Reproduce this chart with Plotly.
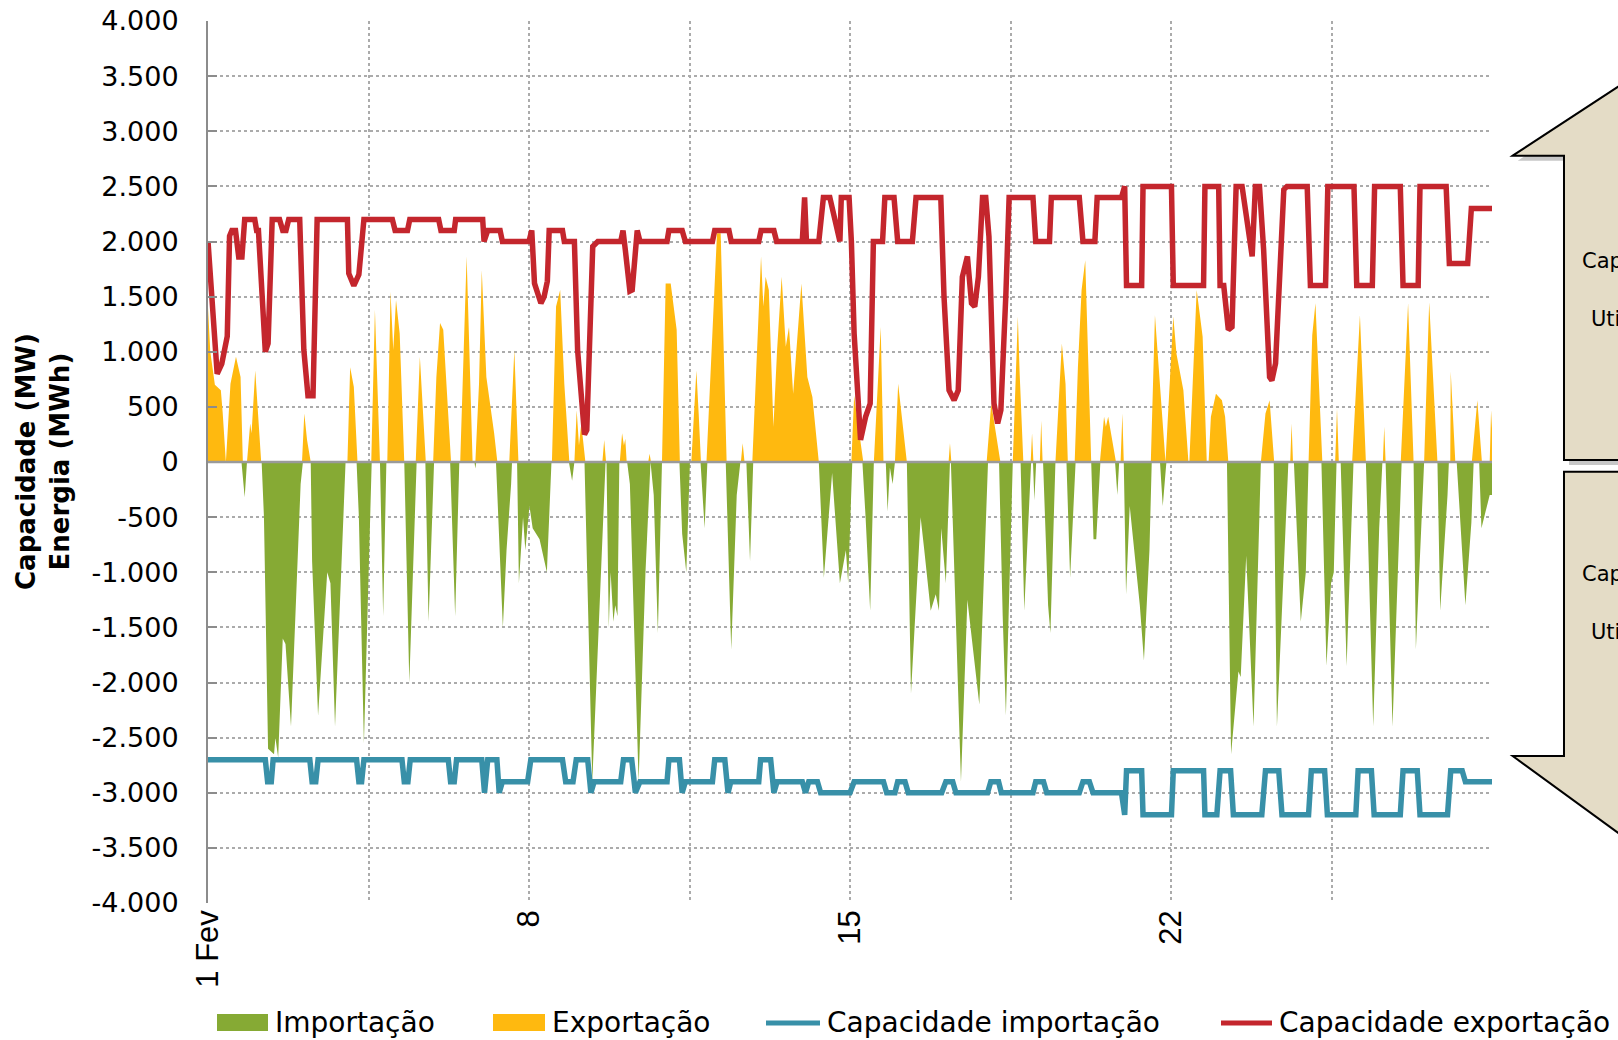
import plotly.graph_objects as go

# ---------------- data (days since 1 Feb, MW) ----------------
exp_day = [0.0, 0.05, 0.15, 0.28, 0.32, 0.38, 0.39, 0.49, 0.61, 0.71, 0.76, 0.85, 0.92, 0.95, 1.03, 1.16,
           2.05, 2.1, 2.16, 2.24, 3.04, 3.1, 3.18, 3.26, 3.56, 3.64, 3.75, 3.91, 3.98, 4.04, 4.1, 4.18, 4.28,
           4.53, 4.62, 4.75, 4.91, 4.98, 5.06, 5.13, 5.3, 5.5, 5.64, 5.77, 5.83, 5.91, 5.97, 6.07, 6.24, 6.31,
           6.57, 6.68, 6.77, 7.5, 7.59, 7.68, 7.77, 7.88, 7.99, 8.04, 8.09, 8.14, 8.23, 8.6, 8.64, 8.68,
           8.98, 9.03, 9.07, 9.1, 9.13, 9.6, 9.63, 9.66, 9.9, 9.98, 10.09, 10.22, 10.29, 10.54, 10.65, 10.7, 10.75,
           10.87, 11.1, 11.18, 11.31, 11.62, 11.66, 11.7, 11.87, 12.06, 12.11, 12.16, 12.23, 12.33, 12.41, 12.51,
           12.6, 12.67, 12.76, 12.94, 13.07, 13.18, 13.32, 14.03, 14.09, 14.29, 14.52, 14.67, 14.73, 14.98, 15.05,
           15.24, 16.15, 16.18, 16.21, 16.98, 17.08, 17.28, 17.55, 17.66, 17.7, 17.78, 17.94, 17.97, 18.0, 18.14,
           18.17, 18.2, 18.48, 18.62, 18.7, 18.75, 18.9, 18.97, 19.05, 19.13, 19.19, 19.26, 19.45, 19.54, 19.58,
           19.63, 19.8, 19.9, 19.94, 19.97, 20.56, 20.65, 20.88, 20.96, 21.05, 21.12, 21.27, 21.38, 21.4, 21.56,
           21.69, 21.78, 21.82, 21.87, 21.98, 22.11, 22.18, 22.25, 22.96, 23.06, 23.15, 23.25, 23.6, 23.63, 23.66,
           24.0, 24.08, 24.15, 24.3, 24.58, 24.62, 24.66, 24.95, 25.12, 25.25, 25.62, 25.65, 25.68, 26.01, 26.17,
           26.29, 26.52, 26.63, 26.81, 27.09, 27.1, 27.2, 27.56, 27.68, 27.78, 27.95, 27.98, 28.0]
exp_mw = [1400, 1000, 700, 650, 450, 0, 0, 710, 955, 770, 0, 0, 350, 260, 830, 0,
          0, 440, 200, 0, 0, 860, 680, 0, 0, 1380, 0, 0, 1545, 1015, 1470, 1165, 0,
          0, 955, 0, 0, 770, 1260, 1200, 0, 0, 1865, 0, 0, 710, 1740, 770, 260, 0,
          0, 1015, 0, 0, 1410, 1560, 710, 0, 0, 470, 150, 350, 0, 0, 200, 0,
          0, 260, 150, 210, 0, 0, 75, 0, 0, 1620, 1620, 1200, 0, 0, 830, 440, 0,
          0, 2075, 2075, 0, 0, 170, 0, 0, 1865, 1410, 1680, 1560, 320, 1015, 1680,
          1045, 1225, 620, 1620, 770, 590, 0, 0, 600, 0, 0, 1225, 0, 0, 710,
          0, 0, 170, 0, 0, 530, 0, 0, 1320, 800, 0, 0, 260, 0, 0,
          375, 0, 0, 1075, 710, 0, 0, 860, 1560, 1830, 1075, 0, 0, 410, 320,
          410, 0, 0, 440, 0, 0, 1330, 0, 680, 1320, 980, 650, 0, 0, 1560,
          1135, 0, 0, 410, 620, 560, 410, 0, 0, 440, 560, 0, 0, 350, 0,
          0, 1150, 1440, 0, 0, 485, 0, 0, 1330, 0, 0, 320, 0, 0, 1440,
          0, 0, 1450, 0, 0, 820, 0, 0, 560, 0, 0, 470, 300]

imp_day = [0.0, 0.73, 0.8, 0.85, 1.17, 1.22, 1.31, 1.44, 1.47, 1.53, 1.63, 1.69, 1.81, 2.02, 2.07,
           2.24, 2.27, 2.4, 2.6, 2.67, 2.77, 2.89, 3.0, 3.24, 3.29, 3.4, 3.55, 3.57, 3.75, 3.82, 3.89,
           4.28, 4.39, 4.55, 4.74, 4.81, 4.93, 5.28, 5.39, 5.48, 5.81, 5.83, 5.85, 6.28, 6.43, 6.51, 6.61, 6.63,
           6.74, 6.78, 6.87, 6.92, 7.01, 7.08, 7.23, 7.39, 7.49, 7.87, 7.94, 7.99, 8.21, 8.38, 8.54, 8.65, 8.67,
           8.69, 8.74, 8.78, 8.84, 8.88, 8.93, 8.97, 9.14, 9.2, 9.39, 9.54, 9.65, 9.72, 9.81, 9.9,
           10.28, 10.34, 10.43, 10.51, 10.74, 10.83, 10.89, 11.29, 11.41, 11.53, 11.61, 11.74, 11.82, 11.89,
           13.32, 13.43, 13.61, 13.78, 13.91, 13.96, 14.05, 14.27, 14.34, 14.44, 14.52, 14.78, 14.82, 14.87,
           14.93, 14.98, 15.24, 15.33, 15.54, 15.62, 15.76, 15.87, 15.94, 15.99, 16.09, 16.18, 16.2, 16.42,
           16.56, 16.82, 17.01, 17.25, 17.33, 17.4, 17.55, 17.72, 17.8, 17.95, 17.99, 18.02, 18.06, 18.21,
           18.32, 18.37, 18.48, 18.72, 18.8, 18.92, 19.26, 19.31, 19.37, 19.46, 19.78, 19.83, 19.87, 19.97,
           20.02, 20.1, 20.23, 20.32, 20.41, 20.53, 20.58, 20.76, 20.82, 20.9, 22.22, 22.31, 22.47, 22.52,
           22.64, 22.8, 22.96, 23.24, 23.31, 23.53, 23.56, 23.68, 23.83, 23.94, 24.0, 24.28, 24.39, 24.49,
           24.55, 24.61, 24.7, 24.83, 24.98, 25.25, 25.41, 25.54, 25.61, 25.68, 25.83, 26.03, 26.29, 26.34,
           26.52, 26.81, 26.87, 27.03, 27.06, 27.23, 27.42, 27.55, 27.6, 27.72, 27.77, 27.86, 27.95, 28.0]
imp_mw = [0, 0, -320, 0, 0, -500, -2600, -2650, -2500, -2680, -1600, -1650, -2400, -200, 0,
          0, -900, -2300, -1000, -1100, -2400, -1100, 0, 0, -500, -2550, -250, 0, 0, -1400, 0,
          0, -2000, 0, 0, -1450, 0, 0, -1400, 0, 0, -60, 0, 0, -1500, -800, -200, 0,
          0, -1100, -500, -800, -400, -600, -700, -1000, 0, 0, -170, 0, 0, -2900, -1300, -300, 0,
          0, -1500, -1000, -1450, -1300, -1400, 0, 0, -200, -2900, -1000, 0, -300, -1550, 0,
          0, -650, -1000, 0, 0, -600, 0, 0, -1700, -300, 0, 0, -900, 0,
          0, -1050, -100, -1100, -800, -1100, 0, 0, -500, -1350, 0, 0, -450, -50,
          -200, 0, 0, -2100, -500, -800, -1350, -1200, -1350, -600, -1100, 0, 0, -2900,
          -1250, -2200, 0, 0, -1400, -2300, 0, 0, -1350, 0, 0, -350, 0, 0,
          -1300, -1550, 0, 0, -1050, 0, 0, -700, -700, 0, 0, -300, 0, 0,
          -1200, -400, -900, -1300, -1800, -800, 0, 0, -400, 0, 0, -2650, -1900, -1950,
          -850, -2400, 0, 0, -2400, -300, 0, 0, -1450, -1000, 0, 0, -1850, -1100,
          -1000, 0, 0, -1850, 0, 0, -2400, -600, 0, 0, -2400, 0, 0, -1700,
          0, 0, -1350, -300, 0, 0, -1300, -550, 0, 0, -600, -450, -300, -300]

capimp_day = [0, 1.25, 1.3, 1.38, 1.42, 2.22, 2.27, 2.35, 2.4, 3.24, 3.29, 3.35, 3.4, 4.23, 4.28, 4.36, 4.41,
              5.24, 5.29, 5.37, 5.42, 5.97, 6.03, 6.1, 6.3, 6.35, 6.42, 6.97, 7.04, 7.73, 7.8, 7.96, 8.03,
              8.28, 8.35, 8.42, 9.0, 9.06, 9.24, 9.32, 9.42, 10.01, 10.05, 10.28, 10.34, 10.41, 11.0, 11.05,
              11.27, 11.34, 11.4, 12.01, 12.05, 12.27, 12.34, 12.41, 12.96, 13.03, 13.1, 13.29, 13.36, 14.0,
              14.09, 14.73, 14.8, 14.98, 15.04, 15.2, 15.27, 16.0, 16.09, 16.24, 16.31, 17.0, 17.07, 17.24,
              17.3, 17.99, 18.05, 18.22, 18.29, 19.0, 19.08, 19.22, 19.3, 19.92, 19.99, 20.03, 20.36, 20.39,
              21.01, 21.05, 21.71, 21.74, 22.0, 22.07, 22.3, 22.36, 22.98, 23.06, 23.35, 23.42, 24.0, 24.06,
              24.35, 24.41, 25.03, 25.08, 25.37, 25.43, 26.0, 26.06, 26.37, 26.43, 27.03, 27.1, 27.35, 27.42, 28.0]
capimp_mw = [-2700, -2700, -2900, -2900, -2700, -2700, -2900, -2900, -2700, -2700, -2900, -2900, -2700,
             -2700, -2900, -2900, -2700, -2700, -2900, -2900, -2700, -2700, -3000, -2700, -2700, -3000,
             -2900, -2900, -2700, -2700, -2900, -2900, -2700, -2700, -3000, -2900, -2900, -2700, -2700,
             -3000, -2900, -2900, -2700, -2700, -3000, -2900, -2900, -2700, -2700, -3000, -2900, -2900,
             -2700, -2700, -3000, -2900, -2900, -3000, -2900, -2900, -3000, -3000, -2900, -2900, -3000,
             -3000, -2900, -2900, -3000, -3000, -2900, -2900, -3000, -3000, -2900, -2900, -3000, -3000,
             -2900, -2900, -3000, -3000, -2900, -2900, -3000, -3000, -3200, -2800, -2800, -3200, -3200,
             -2800, -2800, -3200, -3200, -2800, -2800, -3200, -3200, -2800, -2800, -3200, -3200, -2800,
             -2800, -3200, -3200, -2800, -2800, -3200, -3200, -2800, -2800, -3200, -3200, -2800, -2800,
             -2900, -2900]

capexp_day = [0.0, 0.2, 0.3, 0.42, 0.47, 0.52, 0.6, 0.67, 0.74, 0.8, 1.02, 1.06, 1.1, 1.25, 1.31, 1.4,
              1.56, 1.63, 1.7, 1.76, 2.0, 2.09, 2.18, 2.29, 2.38, 3.04, 3.07, 3.18, 3.29, 3.4, 4.02, 4.08,
              4.35, 4.4, 5.03, 5.08, 5.37, 5.4, 5.99, 6.02, 6.1, 6.37, 6.42, 7.0, 7.06, 7.12, 7.26, 7.33,
              7.4, 7.44, 7.73, 7.77, 7.99, 8.06, 8.21, 8.26, 8.39, 8.5, 9.0, 9.05, 9.1, 9.2, 9.25, 9.32,
              9.36, 9.42, 10.01, 10.05, 10.34, 10.41, 11.0, 11.05, 11.36, 11.41, 12.01, 12.06, 12.34, 12.4,
              12.96, 13.01, 13.05, 13.32, 13.42, 13.56, 13.78, 13.81, 13.98, 14.03, 14.09, 14.23, 14.34,
              14.44, 14.51, 14.71, 14.76, 14.96, 15.04, 15.36, 15.44, 15.98, 16.05, 16.16, 16.27, 16.36,
              16.45, 16.56, 16.65, 16.72, 16.8, 16.89, 16.96, 17.03, 17.14, 17.22, 17.29, 17.4, 17.47,
              17.99, 18.05, 18.35, 18.39, 19.0, 19.08, 19.34, 19.39, 19.92, 19.99, 20.03, 20.36, 20.39,
              21.01, 21.05, 21.71, 21.74, 22.04, 22.07, 22.15, 22.25, 22.33, 22.42, 22.55, 22.77, 22.84,
              22.93, 23.02, 23.15, 23.2, 23.28, 23.39, 23.46, 23.53, 23.97, 24.04, 24.37, 24.42, 24.99,
              25.05, 25.39, 25.44, 26.0, 26.06, 26.39, 26.43, 27.0, 27.07, 27.47, 27.55, 28.0]
capexp_mw = [2000, 800, 890, 1140, 2050, 2100, 2100, 1860, 1860, 2200, 2200, 2100, 2100, 1000, 1075, 2200,
             2200, 2100, 2100, 2200, 2200, 1015, 600, 600, 2200, 2200, 1710, 1600, 1700, 2200, 2200, 2100,
             2100, 2200, 2200, 2100, 2100, 2200, 2200, 2000, 2100, 2100, 2000, 2000, 2100, 1620, 1440, 1500,
             1640, 2100, 2100, 2000, 2000, 1015, 250, 290, 1955, 2000, 2000, 2100, 1925, 1550, 1560, 1985,
             2100, 2000, 2000, 2100, 2100, 2000, 2000, 2100, 2100, 2000, 2000, 2100, 2100, 2000,
             2000, 2400, 2000, 2000, 2400, 2400, 2000, 2400, 2400, 2000, 1165, 200, 410,
             530, 2000, 2000, 2400, 2400, 2000, 2000, 2400, 2400, 1500, 650, 560, 650,
             1680, 1865, 1440, 1410, 1680, 2400, 2400, 2045, 530, 350, 470, 1530, 2400,
             2400, 2000, 2000, 2400, 2400, 2000, 2000, 2400, 2400, 2500, 1600, 1600, 2500,
             2500, 1600, 1600, 2500, 2500, 1600, 1600, 1200, 1225, 2500, 2500, 1865, 2500,
             2500, 1925, 770, 740, 895, 1925, 2470, 2500, 2500, 1600, 1600, 2500, 2500,
             1600, 1600, 2500, 2500, 1600, 1600, 2500, 2500, 1800, 1800, 2300, 2300]

x_tickvals = [0, 3.5, 7, 10.5, 14, 17.5, 21, 24.5, 28]
x_ticktext = ["1 Fev", "", "8", "", "15", "", "22", "", ""]
y_tickvals = [4000, 3500, 3000, 2500, 2000, 1500, 1000, 500, 0, -500, -1000, -1500, -2000,
              -2500, -3000, -3500, -4000]
y_ticktext = ["4.000", "3.500", "3.000", "2.500", "2.000", "1.500", "1.000", "500", "0", "-500",
              "-1.000", "-1.500", "-2.000", "-2.500", "-3.000", "-3.500", "-4.000"]

names = ["Importação", "Exportação", "Capacidade importação", "Capacidade exportação"]
y_title = "Capacidade (MW)<br>Energia (MWh)"
callout_up = ["Capacidade", "Utilização"]
callout_down = ["Capacidade", "Utilização"]

# ---------------- style ----------------
GREEN = "#86AA34"
YELLOW = "#FFB90F"
BLUE = "#3890A8"
RED = "#C4262D"
GRID = "#ABABAB"
AXIS = "#8C8C8C"
BEIGE = "#E4DCC6"

W, H = 1618, 1040
ML, MR, MT, MB = 208, 126, 21, 137
PW, PH = W - ML - MR, H - MT - MB


def px(x):
    return (x - ML) / PW


def py(y):
    return (H - MB - y) / PH


fig = go.Figure()
fig.add_trace(go.Scatter(x=imp_day, y=imp_mw, mode="lines", line=dict(width=0, color=GREEN),
                         fill="tozeroy", fillcolor=GREEN, name=names[0], showlegend=False))
fig.add_trace(go.Scatter(x=exp_day, y=exp_mw, mode="lines", line=dict(width=0, color=YELLOW),
                         fill="tozeroy", fillcolor=YELLOW, name=names[1], showlegend=False))
fig.add_trace(go.Scatter(x=capimp_day, y=capimp_mw, mode="lines", line=dict(width=5.5, color=BLUE),
                         name=names[2], showlegend=False))
fig.add_trace(go.Scatter(x=capexp_day, y=capexp_mw, mode="lines", line=dict(width=5.5, color=RED),
                         name=names[3], showlegend=False))

shapes = []
annotations = []

# zero line above the areas
shapes.append(dict(type="line", xref="paper", yref="y", x0=0, x1=1, y0=0, y1=0,
                   line=dict(color="#9A9A9A", width=2.5), layer="above"))


def path(points):
    return "M " + " L ".join(f"{px(x):.5f},{py(y):.5f}" for x, y in points) + " Z"


up_pts = [(1512.7, 155.7), (1700, 33), (1887, 155.7), (1836, 155.7), (1836, 460), (1564, 460), (1564, 155.7)]
down_pts = [(1564, 471.7), (1836, 471.7), (1836, 756), (1887, 756), (1700, 892.7), (1512.7, 756), (1564, 756)]
for pts in (up_pts, down_pts):
    sh = [(x + 5, y + 5) for x, y in pts]
    shapes.append(dict(type="path", xref="paper", yref="paper", path=path(sh),
                       fillcolor="rgba(0,0,0,0.22)", line=dict(width=0), layer="above"))
    shapes.append(dict(type="path", xref="paper", yref="paper", path=path(pts),
                       fillcolor=BEIGE, line=dict(color="black", width=2), layer="above"))

for txt, (x, y) in zip(callout_up + callout_down, [(1580, 261), (1589, 319), (1580, 574), (1589, 632)]):
    annotations.append(dict(text=txt, xref="paper", yref="paper", x=px(x), y=py(y), xanchor="left",
                            yanchor="middle", showarrow=False,
                            font=dict(family="DejaVu Sans", size=21, color="black")))

# manual legend
LEG_Y = 1023
legend_items = [("rect", GREEN, 217, 268, 273, names[0]),
                ("rect", YELLOW, 493, 545, 550, names[1]),
                ("line", BLUE, 766, 820, 825, names[2]),
                ("line", RED, 1221, 1272, 1277, names[3])]
for kind, col, x0, x1, tx, name in legend_items:
    if kind == "rect":
        shapes.append(dict(type="rect", xref="paper", yref="paper", x0=px(x0), x1=px(x1),
                           y0=py(LEG_Y - 9), y1=py(LEG_Y + 8), fillcolor=col, line=dict(width=0)))
    else:
        shapes.append(dict(type="line", xref="paper", yref="paper", x0=px(x0), x1=px(x1),
                           y0=py(LEG_Y), y1=py(LEG_Y), line=dict(color=col, width=5)))
    annotations.append(dict(text=name, xref="paper", yref="paper", x=px(tx), y=py(LEG_Y),
                            xanchor="left", yanchor="middle", showarrow=False,
                            font=dict(family="DejaVu Sans", size=28, color="black")))

# y axis title
annotations.append(dict(text="<b>" + y_title.replace("<br>", "</b><br><b>") + "</b>", xref="paper",
                        yref="paper", x=px(43), y=0.5, textangle=-90, showarrow=False,
                        xanchor="center", yanchor="middle",
                        font=dict(family="DejaVu Sans", size=26, color="black")))

fig.update_layout(
    width=W, height=H,
    margin=dict(l=ML, r=MR, t=MT, b=MB, pad=0, autoexpand=False),
    paper_bgcolor="white", plot_bgcolor="white",
    showlegend=False,
    shapes=shapes, annotations=annotations,
    xaxis=dict(range=[0, 28], tickmode="array", tickvals=x_tickvals, ticktext=x_ticktext,
               tickangle=-90, ticks="", showgrid=True, gridcolor=GRID, griddash="dot", gridwidth=1.5,
               zeroline=False, showline=False, automargin=False,
               tickfont=dict(family="Liberation Sans", size=31, color="black")),
    yaxis=dict(range=[-4000, 4000], tickmode="array", tickvals=y_tickvals, ticktext=y_ticktext,
               ticks="inside", ticklen=9, tickwidth=2, tickcolor=AXIS,
               showline=True, linecolor=AXIS, linewidth=2, automargin=False,
               showgrid=True, gridcolor=GRID, griddash="dot", gridwidth=1.5, zeroline=False,
               ticklabelstandoff=22,
               tickfont=dict(family="DejaVu Sans", size=27, color="black")),
)

fig.write_html("out.html", config={"displayModeBar": False},
               post_script="document.body.style.margin='0';")
